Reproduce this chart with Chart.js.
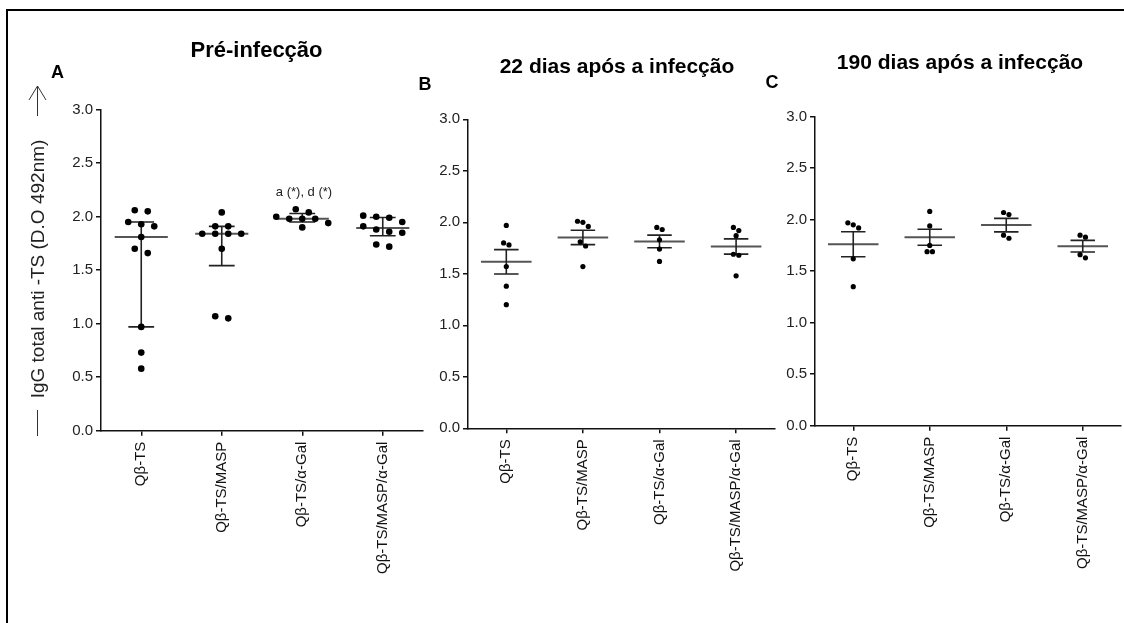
<!DOCTYPE html>
<html>
<head>
<meta charset="utf-8">
<script src="https://cdn.jsdelivr.net/npm/chart.js@4/dist/chart.umd.min.js"></script>
<style>
  html, body { margin: 0; padding: 0; background: #fff; }
  #stage { position: relative; width: 1124px; height: 623px; overflow: hidden;
           font-family: "Liberation Sans", Arial, sans-serif; }
  #stage canvas { position: absolute; left: 0; top: 0; }
  .t { position: absolute; transform: translate(-50%, -50%); white-space: nowrap;
       line-height: 1; color: #000; }
  .b { font-weight: bold; }
  .frame { position: absolute; left: 6px; top: 9px; width: 1300px; height: 800px;
           border-left: 2px solid #000; border-top: 2px solid #000; }
</style>
</head>
<body>
<div id="stage">
  <div class="frame"></div>
  <canvas id="chartA" width="1124" height="623"></canvas>
  <canvas id="chartB" width="1124" height="623"></canvas>
  <canvas id="chartC" width="1124" height="623"></canvas>

  <svg width="1124" height="623" style="position:absolute;left:0;top:0" fill="none" stroke="#333" stroke-width="1">
    <path d="M37.5 86 V116 M29 100 L37.5 86 L46 100"/>
    <path d="M37.5 410 V436"/>
  </svg>

  <div class="t" style="left:37px;top:269px;font-size:19px;color:#222;transform:translate(-50%,-50%) rotate(-90deg)">IgG total anti -TS (D.O 492nm)</div>

  <div class="t b" style="left:57.5px;top:71.5px;font-size:18px">A</div>
  <div class="t b" style="left:256.5px;top:50px;font-size:22px">Pré-infecção</div>
  <div class="t" style="left:304px;top:191px;font-size:13px;color:#222">a (*), d (*)</div>

  <div class="t b" style="left:425px;top:84px;font-size:18px">B</div>
  <div class="t b" style="left:617px;top:65px;font-size:21px">22 dias após a infecção</div>

  <div class="t b" style="left:772px;top:82px;font-size:18px">C</div>
  <div class="t b" style="left:960px;top:61px;font-size:21px">190 dias após a infecção</div>
</div>

<script>
// Vaccine groups on the x axis
const groupLabels = ['Qβ-TS', 'Qβ-TS/MASP', 'Qβ-TS/α-Gal', 'Qβ-TS/MASP/α-Gal'];
const yTicks = [0, 0.5, 1.0, 1.5, 2.0, 2.5, 3.0];

// Total anti-TS IgG (OD 492 nm), pre-infection
const preTS          = [2.06, 2.05, 1.95, 1.93, 1.91, 1.81, 1.70, 1.66, 0.97, 0.73, 0.58];
const preTSMASP      = [2.04, 1.91, 1.91, 1.84, 1.84, 1.84, 1.84, 1.70, 1.07, 1.05];
const preTSaGal      = [2.07, 2.04, 2.00, 1.98, 1.98, 1.98, 1.94, 1.90];
const preTSMASPaGal  = [2.01, 2.00, 1.99, 1.95, 1.91, 1.88, 1.86, 1.85, 1.74, 1.72];

// 22 days after infection
const d22TS          = [1.97, 1.80, 1.78, 1.57, 1.38, 1.20];
const d22TSMASP      = [2.01, 2.00, 1.96, 1.81, 1.77, 1.57];
const d22TSaGal      = [1.95, 1.93, 1.83, 1.74, 1.62];
const d22TSMASPaGal  = [1.95, 1.92, 1.87, 1.69, 1.68, 1.48];

// 190 days after infection
const d190TS         = [1.97, 1.95, 1.92, 1.62, 1.35];
const d190TSMASP     = [2.08, 1.94, 1.75, 1.69, 1.69];
const d190TSaGal     = [2.07, 2.05, 1.85, 1.82];
const d190TSMASPaGal = [1.85, 1.83, 1.66, 1.63];

// ---- summary statistics ----
function quantile(sorted, p) {
  const pos = (sorted.length + 1) * p;
  const lo = Math.floor(pos);
  const frac = pos - lo;
  if (lo < 1) return sorted[0];
  if (lo >= sorted.length) return sorted[sorted.length - 1];
  return sorted[lo - 1] + frac * (sorted[lo] - sorted[lo - 1]);
}
function medianIQR(vals) {
  const s = vals.slice().sort((a, b) => a - b);
  return { center: quantile(s, 0.5), lo: quantile(s, 0.25), hi: quantile(s, 0.75) };
}
function meanSEM(vals) {
  const n = vals.length;
  const m = vals.reduce((a, b) => a + b, 0) / n;
  const sd = Math.sqrt(vals.reduce((a, v) => a + (v - m) * (v - m), 0) / (n - 1));
  const sem = sd / Math.sqrt(n);
  return { center: m, lo: m - sem, hi: m + sem };
}

// Spread points that share a value band side by side (descending left to right)
function swarmOffsets(vals, pxPerY, pxPerX, rowGap, step) {
  const idx = vals.map((v, i) => i).sort((a, b) => vals[b] - vals[a]);
  const off = new Array(vals.length).fill(0);
  let k = 0;
  while (k < idx.length) {
    const start = vals[idx[k]];
    let j = k;
    while (j + 1 < idx.length && (start - vals[idx[j + 1]]) * pxPerY < rowGap) j++;
    const n = j - k + 1;
    for (let m = 0; m < n; m++) off[idx[k + m]] = (m - (n - 1) / 2) * step / pxPerX;
    k = j + 1;
  }
  return off;
}

const W = 1124, H = 623, Y_AXIS_W = 60, X_AXIS_H = 170;
const tickFont = { family: '"Liberation Sans", Arial, sans-serif', size: 15 };

function buildPanel(canvasId, groups, stat, area, look) {
  const pxPerY = (area.bottom - area.top) / 3;
  const pxPerX = (area.right - area.left) / 4;

  const points = [];
  const centers = [];
  const errors = [];
  groups.forEach((vals, g) => {
    const off = swarmOffsets(vals, pxPerY, pxPerX, look.rowGap, look.step);
    vals.forEach((v, i) => points.push({ x: g + off[i], y: v }));
    const s = stat(vals);
    centers.push({ x: g - 0.33, y: s.center }, { x: g + 0.33, y: s.center }, { x: g, y: null });
    errors.push(
      { x: g - 0.16, y: s.hi }, { x: g + 0.16, y: s.hi }, { x: g, y: null },
      { x: g, y: s.hi }, { x: g, y: s.lo }, { x: g, y: null },
      { x: g - 0.16, y: s.lo }, { x: g + 0.16, y: s.lo }, { x: g, y: null }
    );
  });

  return new Chart(document.getElementById(canvasId), {
    type: 'line',
    data: {
      datasets: [
        { data: points, showLine: false, pointRadius: look.dotR, pointHoverRadius: look.dotR,
          pointBackgroundColor: '#000', pointBorderWidth: 0, order: 0 },
        { data: centers, borderColor: '#555', borderWidth: 2, pointRadius: 0,
          spanGaps: false, tension: 0, fill: false, order: 2 },
        { data: errors, borderColor: '#222', borderWidth: 1.6, pointRadius: 0,
          spanGaps: false, tension: 0, fill: false, order: 1 }
      ]
    },
    options: {
      responsive: false,
      animation: false,
      devicePixelRatio: 1,
      events: [],
      layout: {
        padding: {
          left: area.left - Y_AXIS_W,
          right: W - area.right,
          top: area.top,
          bottom: H - area.bottom - X_AXIS_H
        }
      },
      plugins: { legend: { display: false }, tooltip: { enabled: false }, title: { display: false } },
      scales: {
        x: {
          type: 'linear', min: -0.5, max: 3.5, offset: false,
          afterBuildTicks: s => { s.ticks = groupLabels.map((l, i) => ({ value: i })); },
          afterFit: s => { s.height = X_AXIS_H; },
          ticks: {
            autoSkip: false, minRotation: 90, maxRotation: 90, padding: 6,
            color: '#111', font: tickFont,
            callback: v => groupLabels[v]
          },
          grid: { drawOnChartArea: false, drawTicks: true, tickLength: 5, color: '#111', lineWidth: 1.5 },
          border: { display: true, color: '#111', width: 1.5 }
        },
        y: {
          type: 'linear', min: 0, max: 3,
          afterBuildTicks: s => { s.ticks = yTicks.map(v => ({ value: v })); },
          afterFit: s => { s.width = Y_AXIS_W; },
          ticks: { padding: 3, color: '#222', font: tickFont, callback: v => v.toFixed(1) },
          grid: { drawOnChartArea: false, drawTicks: true, tickLength: 5, color: '#111', lineWidth: 1.5 },
          border: { display: true, color: '#111', width: 1.5 }
        }
      }
    }
  });
}

buildPanel('chartA', [preTS, preTSMASP, preTSaGal, preTSMASPaGal], medianIQR,
  { left: 101, right: 423, top: 109.7, bottom: 430.7 },
  { dotR: 3.3, step: 13, rowGap: 6.5 });

buildPanel('chartB', [d22TS, d22TSMASP, d22TSaGal, d22TSMASPaGal], meanSEM,
  { left: 468, right: 774.4, top: 119.3, bottom: 428.3 },
  { dotR: 2.6, step: 5.4, rowGap: 6 });

buildPanel('chartC', [d190TS, d190TSMASP, d190TSaGal, d190TSMASPaGal], meanSEM,
  { left: 815, right: 1121, top: 116.7, bottom: 425.7 },
  { dotR: 2.6, step: 5.4, rowGap: 6 });
</script>
</body>
</html>
